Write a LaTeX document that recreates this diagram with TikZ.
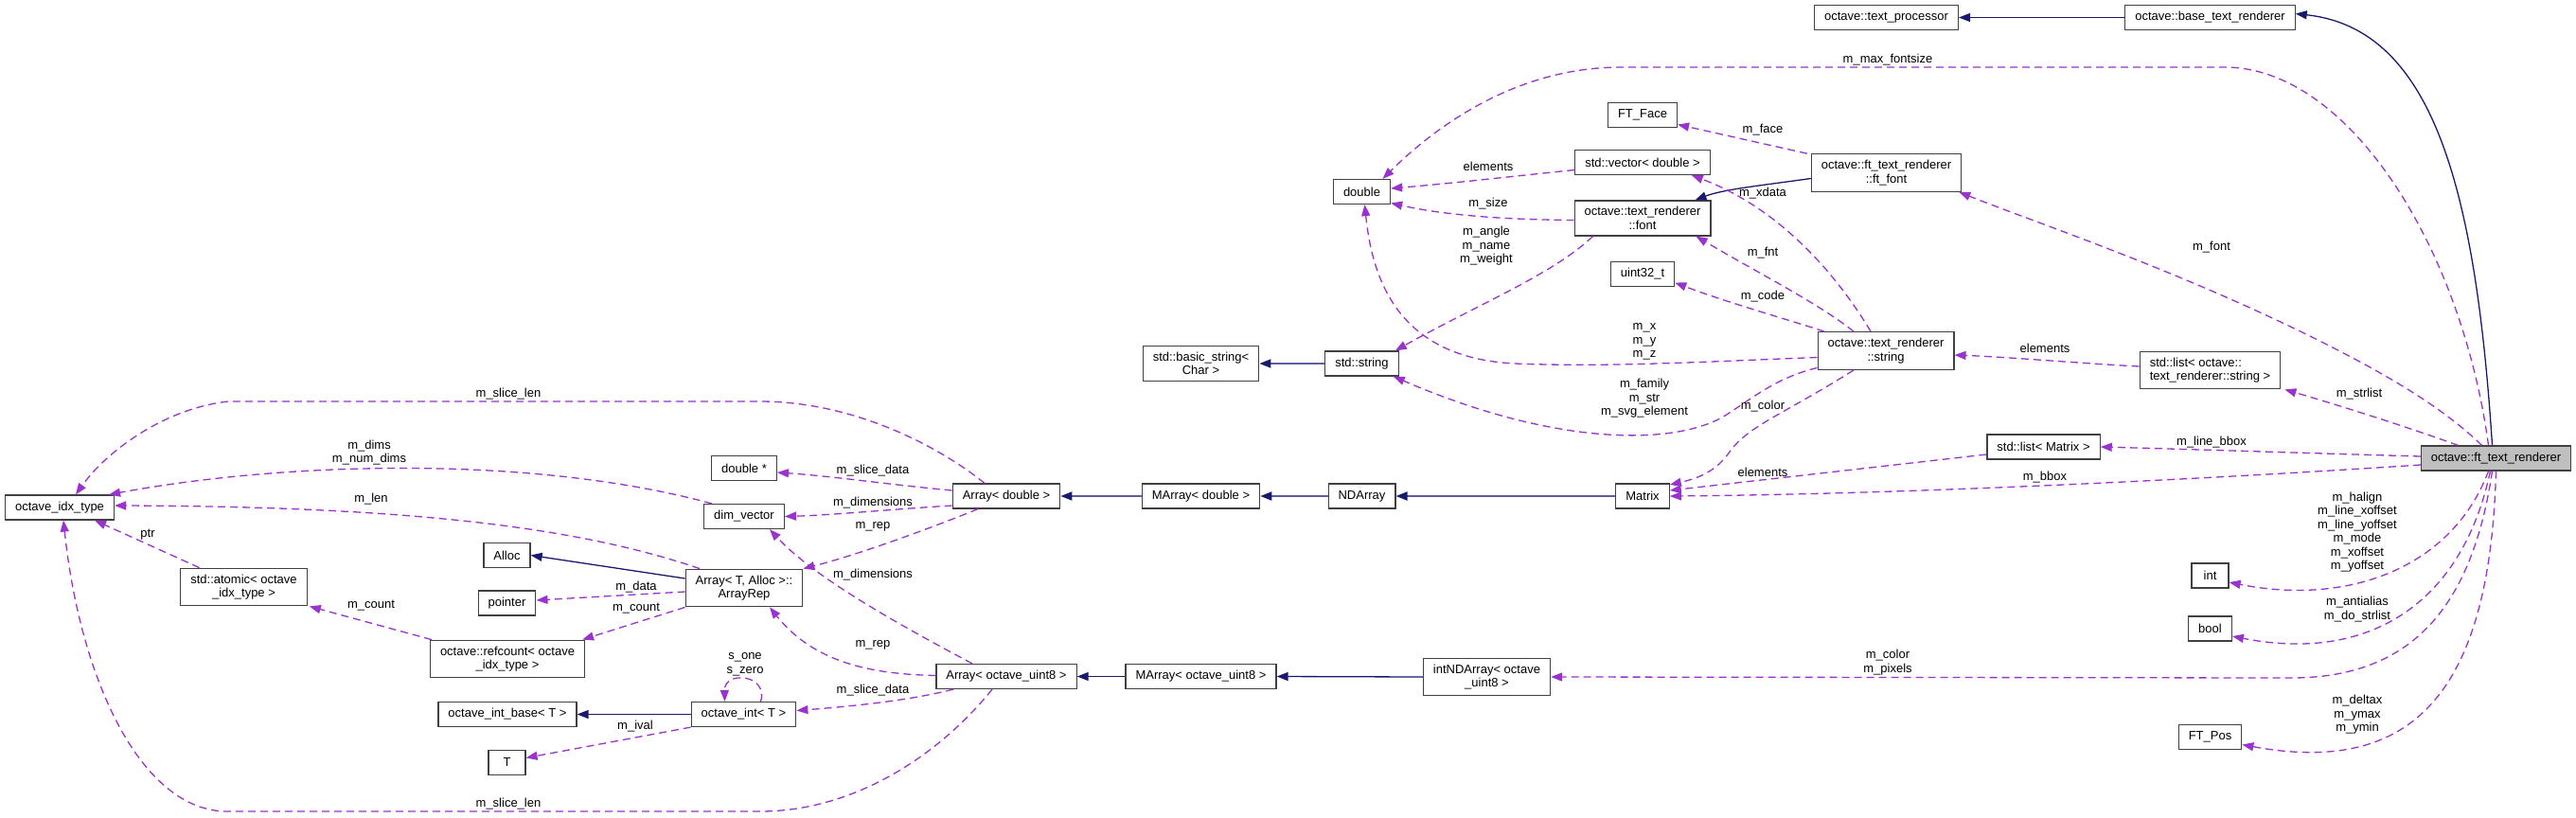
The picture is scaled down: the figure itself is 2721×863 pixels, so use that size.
\documentclass[tikz,border=0pt]{standalone}
\usepackage{fontspec}
\setmainfont{Liberation Sans}
\usetikzlibrary{arrows.meta}

\definecolor{edgepurple}{RGB}{154,50,205}
\definecolor{edgenavy}{RGB}{25,25,112}
\definecolor{boxgray}{RGB}{64,64,64}
\definecolor{mainfill}{RGB}{191,191,191}

\tikzset{
  cls/.style={rectangle,draw=boxgray,line width=1.2pt,fill=white,inner xsep=10.5pt,inner ysep=6.5pt,
    minimum height=26pt,minimum width=39pt,align=center,font=\fontsize{13}{14.5}\selectfont},
  lbl/.style={rectangle,inner sep=0pt,align=center,font=\fontsize{13}{14.5}\selectfont},
  uses/.style={draw=edgepurple,line width=1.3pt,dash pattern=on 8pt off 5pt,
    -{Triangle[length=12pt,width=9pt,color=edgepurple]}},
  inherit/.style={draw=edgenavy,line width=1.3pt,-{Triangle[length=12pt,width=9pt,color=edgenavy]}},
  inhsoft/.style={inherit,draw=edgenavy!70!white,line width=1.8pt}
}

\begin{document}
\begin{tikzpicture}[x=1pt,y=-1pt]
	\useasboundingbox (0,0) rectangle (2721,863);

	%classes
	\node[cls] (tproc) at (1992.5,18.5) {octave::text\_processor};
	\node[cls] (basetr) at (2334.5,18.5) {octave::base\_text\_renderer};
	\node[cls] (ftface) at (1735,121.5) {FT\_Face};
	\node[cls] (dvec) at (1735,171.5) {std::vector< double >};
	\node[cls] (dbl) at (1438.5,202.5) {double};
	\node[cls] (ftfont) at (1992.5,182.5) {octave::ft\_text\_renderer\\::ft\_font};
	\node[cls] (trfont) at (1735,230.5) {octave::text\_renderer\\::font};
	\node[cls] (u32) at (1735,289.5) {uint32\_t};
	\node[cls] (trstr) at (1992,370.5) {octave::text\_renderer\\::string};
	\node[cls] (sstr) at (1438.5,384) {std::string};
	\node[cls] (bstr) at (1268.5,384) {std::basic\_string<\\Char >};
	\node[cls,align=left] (lstr) at (2334.5,391) {std::list< octave::\\text\_renderer::string >};
	\node[cls] (lmat) at (2158.5,472) {std::list< Matrix >};
	\node[cls,fill=mainfill] (ftr) at (2636.5,484) {octave::ft\_text\_renderer};
	\node[cls] (mat) at (1735,524) {Matrix};
	\node[cls] (nda) at (1438.5,524) {NDArray};
	\node[cls] (mad) at (1268.5,524) {MArray< double >};
	\node[cls] (ad) at (1063,524) {Array< double >};
	\node[cls] (dptr) at (786,494.5) {double *};
	\node[cls] (dimv) at (786,545.5) {dim\_vector};
	\node[cls] (arep) at (786,621) {Array< T, Alloc >::\\ArrayRep};
	\node[cls] (au8) at (1063,714.5) {Array< octave\_uint8 >};
	\node[cls] (mau8) at (1268.5,714.5) {MArray< octave\_uint8 >};
	\node[cls] (intnd) at (1570.5,715) {intNDArray< octave\\\_uint8 >};
	\node[cls] (oint) at (785.5,754.5) {octave\_int< T >};
	\node[cls] (intt) at (2334.5,608) {int};
	\node[cls] (boolt) at (2334.5,664) {bool};
	\node[cls] (ftpos) at (2334.5,778.5) {FT\_Pos};
	\node[cls] (idx) at (63,536) {octave\_idx\_type};
	\node[cls] (atom) at (257.5,620) {std::atomic< octave\\\_idx\_type >};
	\node[cls] (alloc) at (535.5,586.5) {Alloc};
	\node[cls] (ptr) at (535.5,637) {pointer};
	\node[cls] (refc) at (536,696) {octave::refcount< octave\\\_idx\_type >};
	\node[cls] (oibase) at (536,754.5) {octave\_int\_base< T >};
	\node[cls] (tt) at (535.5,805.5) {T};

	%inheritance
	\draw[inherit] (basetr.west) -- (tproc.east);
	\draw[inherit] ([xshift=-4pt]ftr.north) .. controls (2615,200) and (2570,30) .. ([yshift=4pt]basetr.east);
	\draw[inherit] ([yshift=-6pt]ftfont.west) .. controls (1860,196) and (1820,200) .. ([xshift=-17pt]trfont.north east);
	\draw[inhsoft] (sstr.west) -- (bstr.east);
	\draw[inhsoft] (mad.west) -- (ad.east);
	\draw[inhsoft] (nda.west) -- (mad.east);
	\draw[inhsoft] (mat.west) -- (nda.east);
	\draw[inherit] (mau8.west) -- (au8.east);
	\draw[inherit] (intnd.west) -- (mau8.east);
	\draw[inherit] ([yshift=10pt]arep.west) -- (alloc.east);
	\draw[inherit] (oint.west) -- (oibase.east);

	%members
	\draw[uses] ([xshift=-8pt]ftr.north) .. controls (2600,260) and (2480,71) .. (2350,71) -- (1712,71) .. controls (1600,71) and (1515,135) .. ([xshift=22pt]dbl.north);
	\draw[uses] ([yshift=-8pt]dvec.west) .. controls (1600,186) and (1530,194) .. ([yshift=3.5pt]dbl.east);
	\draw[uses] ([yshift=-2pt]trfont.west) .. controls (1580,232) and (1520,226) .. ([yshift=-12pt]dbl.east);
	\draw[uses] ([yshift=-7pt]trstr.west) .. controls (1800,382) and (1700,388) .. (1600,384) .. controls (1480,378) and (1450,300) .. ([xshift=3pt]dbl.south);
	\draw[uses] ([xshift=20pt]trfont.south west) .. controls (1640,290) and (1560,322) .. ([xshift=-4pt]sstr.north east);
	\draw[uses] ([yshift=-18pt]trstr.west) .. controls (1870,400) and (1840,430) .. (1815,443) .. controls (1760,470) and (1640,470) .. ([xshift=-6pt]sstr.south east);
	\draw[uses] ([xshift=-4pt]ftfont.north west) -- ([yshift=-10pt]ftface.east);
	\draw[uses] ([xshift=-16pt]trstr.north) .. controls (1940,290) and (1880,220) .. ([xshift=-20pt]dvec.south east);
	\draw[uses] ([xshift=-34pt]trstr.north) .. controls (1920,320) and (1860,290) .. ([xshift=-16pt]trfont.south east);
	\draw[uses] ([xshift=-65pt]trstr.north) .. controls (1880,335) and (1820,318) .. ([yshift=-9pt]u32.east);
	\draw[uses] ([xshift=-34pt]trstr.south) .. controls (1880,440) and (1845,450) .. (1825,480) .. controls (1810,500) and (1790,506) .. ([yshift=12pt]mat.east);
	\draw[uses] ([xshift=-15pt]ftr.north) .. controls (2580,430) and (2520,395) .. (2450,360) .. controls (2300,285) and (2150,235) .. ([xshift=-3pt]ftfont.south east);
	\draw[uses] ([yshift=4pt]lstr.west) .. controls (2200,384) and (2120,377) .. ([yshift=-4.5pt]trstr.east);
	\draw[uses] ([xshift=-40pt]ftr.north) .. controls (2540,450) and (2470,428) .. ([xshift=4pt]lstr.south east);
	\draw[uses] ([yshift=-8pt]lmat.west) -- ([yshift=6pt]mat.east);
	\draw[uses] ([yshift=2pt]ftr.west) .. controls (2450,479) and (2330,475) .. (lmat.east);
	\draw[uses] ([yshift=-7pt]ftr.west) .. controls (2300,508) and (2000,522) .. (mat.east);
	\draw[uses] ([xshift=-8pt]ftr.south) .. controls (2590,600) and (2480,640) .. ([yshift=-7pt]intt.east);
	\draw[uses] ([xshift=-6pt]ftr.south) .. controls (2600,640) and (2500,700) .. ([yshift=-8pt]boolt.east);
	\draw[uses] ([xshift=-4pt]ftr.south) .. controls (2610,650) and (2540,716) .. (2420,716) -- (intnd.east);
	\draw[uses] (ftr.south) .. controls (2630,730) and (2550,820) .. ([yshift=-8pt]ftpos.east);
	\draw[uses] ([xshift=-23pt]ad.north) .. controls (990,470) and (900,424) .. (803,424) -- (241,424) .. controls (170,432) and (110,480) .. ([xshift=17pt]idx.north);
	\draw[uses] ([xshift=-34pt]dimv.north) .. controls (560,480) and (300,488) .. ([xshift=-6pt]idx.north east);
	\draw[uses] ([xshift=-47pt]arep.north) .. controls (620,560) and (450,535) .. ([yshift=2pt]idx.east);
	\draw[uses] ([xshift=-47pt]atom.north) -- ([xshift=-21pt]idx.south east);
	\draw[uses] ([xshift=-15pt]au8.south) .. controls (990,800) and (900,857) .. (803,857) -- (240,857) .. controls (150,857) and (85,720) .. ([xshift=4pt]idx.south);
	\draw[uses] ([xshift=2pt]refc.north west) -- ([xshift=2pt]atom.south east);
	\draw[uses] (arep.south west) -- ([xshift=-3pt]refc.north east);
	\draw[uses] ([yshift=-4pt]arep.west) -- ([yshift=3pt]ptr.east);
	\draw[uses] (oint.south west) -- ([yshift=5pt]tt.east);
	\draw[uses] ([xshift=18pt]oint.north) .. controls (812,712) and (765,708) .. ([xshift=-20pt]oint.north);
	\draw[uses] ([xshift=-56pt]au8.south) .. controls (960,740) and (900,746) .. ([yshift=4pt]oint.east);
	\draw[uses] ([yshift=1pt]au8.west) .. controls (920,712) and (860,700) .. ([xshift=27pt]arep.south);
	\draw[uses] ([xshift=-36pt]au8.north) .. controls (950,660) and (860,610) .. ([xshift=27pt]dimv.south);
	\draw[uses] ([xshift=-30pt]ad.south) .. controls (990,555) and (910,585) .. (arep.north east);
	\draw[uses] ([yshift=-10pt]ad.west) .. controls (940,538) and (880,544) .. (dimv.east);
	\draw[uses] ([yshift=6pt]ad.west) .. controls (940,512) and (880,503) .. ([yshift=-4.5pt]dptr.east);

	%labels
	\node[lbl] (lmaxfs) at (1994,63) {m\_max\_fontsize};
	\node[lbl] (lelemd) at (1572,176) {elements};
	\node[lbl] (lsize) at (1572,215) {m\_size};
	\node[lbl] (langle) at (1570,260) {m\_angle\\m\_name\\m\_weight};
	\node[lbl] (lface) at (1862,137) {m\_face};
	\node[lbl] (lxdata) at (1862,204) {m\_xdata};
	\node[lbl] (lfnt) at (1862,267) {m\_fnt};
	\node[lbl] (lcode) at (1862,313) {m\_code};
	\node[lbl] (lxyz) at (1737,361) {m\_x\\m\_y\\m\_z};
	\node[lbl] (lfamily) at (1737,421) {m\_family\\m\_str\\m\_svg\_element};
	\node[lbl] (lcolor) at (1862,429) {m\_color};
	\node[lbl] (lelems) at (2160,368) {elements};
	\node[lbl] (lfont) at (2336,261) {m\_font};
	\node[lbl] (lstrlist) at (2492,416) {m\_strlist};
	\node[lbl] (llinebb) at (2336,467) {m\_line\_bbox};
	\node[lbl] (lelemm) at (1862,499) {elements};
	\node[lbl] (lbbox) at (2160,504) {m\_bbox};
	\node[lbl] (lint) at (2490,562) {m\_halign\\m\_line\_xoffset\\m\_line\_yoffset\\m\_mode\\m\_xoffset\\m\_yoffset};
	\node[lbl] (lbool) at (2490,643.5) {m\_antialias\\m\_do\_strlist};
	\node[lbl] (lpixels) at (1994,699.5) {m\_color\\m\_pixels};
	\node[lbl] (lftpos) at (2490,755) {m\_deltax\\m\_ymax\\m\_ymin};
	\node[lbl] (lslicet) at (537,416) {m\_slice\_len};
	\node[lbl] (ldims) at (390,478) {m\_dims\\m\_num\_dims};
	\node[lbl] (llen) at (392,527) {m\_len};
	\node[lbl] (lptr) at (156,565) {ptr};
	\node[lbl] (lcounta) at (392,640) {m\_count};
	\node[lbl] (ldata) at (672,620) {m\_data};
	\node[lbl] (lcountr) at (672,643) {m\_count};
	\node[lbl] (lival) at (671,767) {m\_ival};
	\node[lbl] (lsliceb) at (537,849) {m\_slice\_len};
	\node[lbl] (lsliced) at (922,497) {m\_slice\_data};
	\node[lbl] (ldimd) at (922,531) {m\_dimensions};
	\node[lbl] (lrepd) at (922,556) {m\_rep};
	\node[lbl] (ldimu) at (922,607) {m\_dimensions};
	\node[lbl] (lrepu) at (922,681) {m\_rep};
	\node[lbl] (lsone) at (787,702) {s\_one\\s\_zero};
	\node[lbl] (lsliceu) at (922,729) {m\_slice\_data};
\end{tikzpicture}
\end{document}
